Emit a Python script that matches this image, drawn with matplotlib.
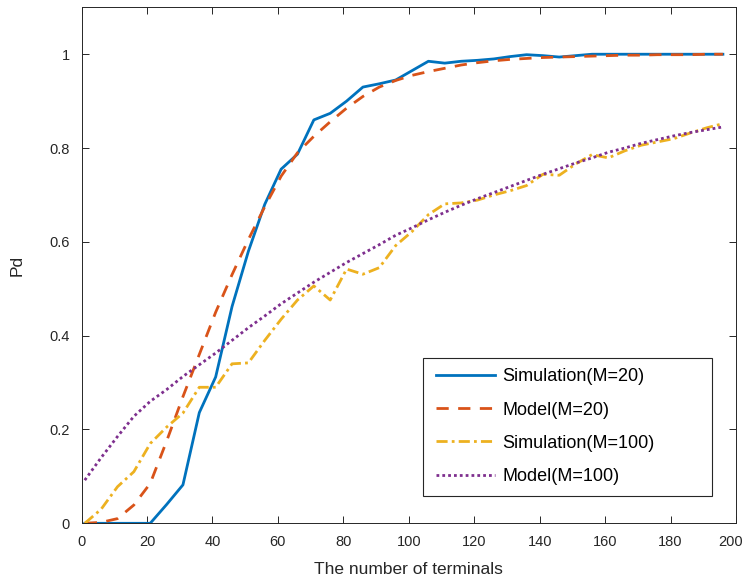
import numpy as np
import matplotlib
matplotlib.use("Agg")
import matplotlib.pyplot as plt
from matplotlib.patches import Rectangle
from matplotlib.transforms import ScaledTranslation

plt.rcParams["font.family"] = ["Liberation Sans", "DejaVu Sans"]

# number of terminals (sampled every 5)
terminals = list(range(1, 200, 5))

sim_m20 = [0, 0, 0, 0, 0, 0.040, 0.082, 0.236, 0.312, 0.462,
           0.580, 0.680, 0.755, 0.787, 0.860, 0.874, 0.900, 0.930, 0.937, 0.945,
           0.965, 0.985, 0.981, 0.985, 0.987, 0.990, 0.995, 0.999, 0.997, 0.994,
           0.997, 1.0, 1.0, 1.0, 1.0, 1.0, 1.0, 1.0, 1.0, 1.0]

model_m20 = [0.0, 0.002, 0.010, 0.039, 0.085, 0.175, 0.270, 0.360, 0.450, 0.530,
             0.605, 0.675, 0.740, 0.790, 0.825, 0.856, 0.885, 0.910, 0.930, 0.944,
             0.955, 0.963, 0.970, 0.977, 0.982, 0.986, 0.989, 0.991, 0.993, 0.994,
             0.995, 0.996, 0.997, 0.998, 0.998, 0.999, 0.999, 0.999, 1.0, 1.0]

sim_m100 = [0.0, 0.030, 0.078, 0.110, 0.170, 0.205, 0.235, 0.290, 0.290, 0.340,
            0.342, 0.390, 0.435, 0.476, 0.506, 0.476, 0.542, 0.531, 0.545, 0.592,
            0.622, 0.658, 0.681, 0.683, 0.689, 0.700, 0.709, 0.720, 0.744, 0.742,
            0.766, 0.786, 0.779, 0.794, 0.806, 0.813, 0.820, 0.832, 0.843, 0.852]

model_m100 = [0.092, 0.140, 0.185, 0.228, 0.260, 0.285, 0.313, 0.338, 0.363, 0.390,
              0.417, 0.442, 0.468, 0.491, 0.514, 0.535, 0.556, 0.575, 0.594, 0.614,
              0.630, 0.647, 0.663, 0.678, 0.692, 0.705, 0.718, 0.731, 0.744, 0.756,
              0.768, 0.779, 0.791, 0.800, 0.810, 0.818, 0.826, 0.833, 0.839, 0.845]

labels = ["Simulation(M=20)", "Model(M=20)", "Simulation(M=100)", "Model(M=100)"]

fig = plt.figure(figsize=(7.45, 5.81), dpi=100)
ax = fig.add_axes([0.1094, 0.0993, 0.8785, 0.8881])

axc = "#262626"
ax.plot(terminals, sim_m20, color="#0072BD", lw=2.0, ls="-", label=labels[0])
ax.plot(terminals, model_m20, color="#D95319", lw=2.0, dashes=(4.4, 3.4), label=labels[1])
ax.plot(terminals, sim_m100, color="#EDB120", lw=2.0, dashes=(4.0, 1.5, 1.0, 1.5), label=labels[2])
ax.plot(terminals, model_m100, color="#7E2F8E", lw=2.0, dashes=(1.0, 1.1), label=labels[3])

ax.set_xlim(0, 200)
ax.set_ylim(0, 1.1)
ax.set_xticks(np.arange(0, 201, 20))
ax.set_yticks([0, 0.2, 0.4, 0.6, 0.8, 1.0])
ax.set_yticklabels(["0", "0.2", "0.4", "0.6", "0.8", "1"])
ax.tick_params(direction="in", top=True, right=True, length=4.8, width=0.7,
               colors=axc, labelsize=10.5)
ax.tick_params(axis="x", pad=8.5)
ax.tick_params(axis="y", pad=8.5)
for s in ax.spines.values():
    s.set_color(axc)
    s.set_linewidth(0.7)

# last x label sits a little left of its tick so it stays inside the figure
last = ax.get_xticklabels()[-1]
last.set_transform(last.get_transform() + ScaledTranslation(-5 / 100, 0, fig.dpi_scale_trans))

ax.set_xlabel("The number of terminals", fontsize=12.5, color=axc, labelpad=9)
ax.set_ylabel("Pd", fontsize=12.5, color=axc, labelpad=18)

# legend box drawn separately (wider than its contents, as in the reference)
bx0, by0, bx1, by1 = 0.522, 0.053, 0.964, 0.320
ax.add_patch(Rectangle((bx0, by0), bx1 - bx0, by1 - by0, transform=ax.transAxes,
                       facecolor="white", edgecolor=axc, lw=0.8, zorder=4))
leg = ax.legend(loc="upper left", bbox_to_anchor=(bx0, by1 + 0.005), borderaxespad=0,
                fontsize=13, handlelength=3.3, handletextpad=0.4, labelspacing=0.9,
                frameon=False, borderpad=0.7)
leg.set_zorder(5)

fig.savefig("out.png", dpi=100)
